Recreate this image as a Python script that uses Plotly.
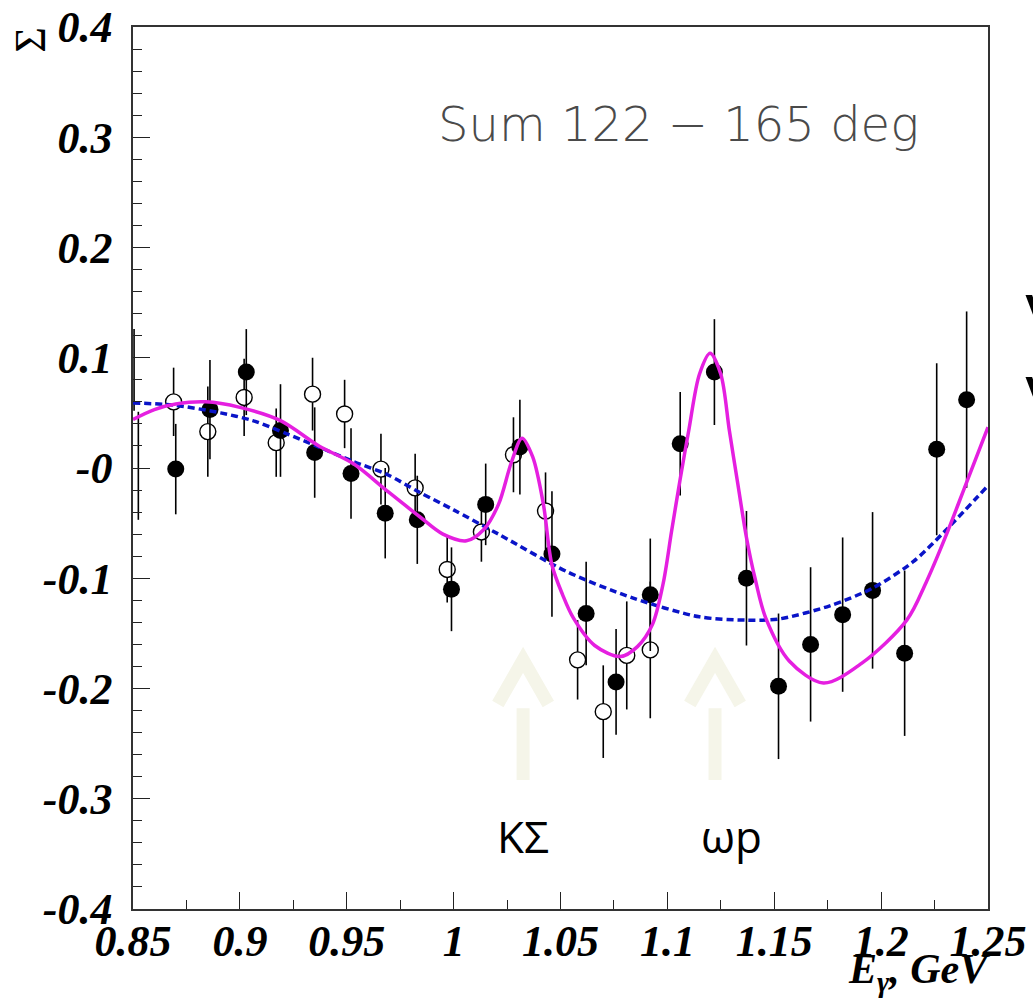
import plotly.graph_objects as go

# ---------------- data ----------------
E_FILLED = [0.870, 0.886, 0.903, 0.919, 0.935, 0.952, 0.968, 0.983, 0.999, 1.015,
            1.031, 1.046, 1.062, 1.076, 1.092, 1.106, 1.122, 1.137, 1.152, 1.167,
            1.182, 1.196, 1.211, 1.226, 1.240]
S_FILLED = [-0.001, 0.053, 0.087, 0.034, 0.014, -0.005, -0.041, -0.047, -0.110, -0.033,
            0.019, -0.078, -0.132, -0.194, -0.115, 0.022, 0.087, -0.100, -0.198, -0.160,
            -0.133, -0.111, -0.168, 0.017, 0.062]
ERR_FILLED = [0.041, 0.045, 0.039, 0.042, 0.041, 0.041, 0.041, 0.040, 0.038, 0.037,
              0.043, 0.057, 0.047, 0.048, 0.051, 0.047, 0.048, 0.061, 0.066, 0.070,
              0.070, 0.071, 0.075, 0.078, 0.080]

E_OPEN = [0.869, 0.885, 0.902, 0.917, 0.934, 0.949, 0.966, 0.982, 0.997, 1.013,
          1.028, 1.043, 1.058, 1.070, 1.081, 1.092]
S_OPEN = [0.060, 0.033, 0.064, 0.023, 0.067, 0.049, -0.001, -0.018, -0.092, -0.058,
          0.012, -0.039, -0.174, -0.221, -0.170, -0.165]
ERR_OPEN = [0.031, 0.041, 0.035, 0.031, 0.033, 0.031, 0.032, 0.031, 0.030, 0.027,
            0.034, 0.035, 0.036, 0.042, 0.049, 0.062]

# error bars at the very left edge whose markers fall outside the frame
E_EDGE = [0.8505, 0.8525]
S_EDGE = [0.089, 0.002]
ERR_EDGE = [0.037, 0.049]

# solid magenta fit
E_FIT = [0.850, 0.860, 0.870, 0.884, 0.900, 0.919, 0.937, 0.953, 0.969, 0.984,
         0.995, 1.006, 1.014, 1.021, 1.027, 1.032, 1.037, 1.042, 1.046, 1.051,
         1.056, 1.066, 1.078, 1.086, 1.093, 1.098, 1.102, 1.106, 1.110, 1.115,
         1.120, 1.125, 1.129, 1.133, 1.137, 1.141, 1.146, 1.157, 1.173, 1.191,
         1.212, 1.221, 1.230, 1.240, 1.250]
S_FIT = [0.044, 0.053, 0.058, 0.060, 0.055, 0.043, 0.020, 0.004, -0.021, -0.044,
         -0.060, -0.066, -0.056, -0.033, 0.005, 0.027, 0.010, -0.033, -0.088, -0.115,
         -0.136, -0.161, -0.171, -0.162, -0.142, -0.105, -0.057, -0.010, 0.034, 0.085,
         0.104, 0.085, 0.034, -0.015, -0.063, -0.100, -0.136, -0.175, -0.195, -0.177,
         -0.138, -0.104, -0.063, -0.013, 0.037]

# dashed blue curve
E_MODEL = [0.850, 0.869, 0.891, 0.906, 0.922, 0.937, 0.953, 0.969, 0.984, 1.000,
           1.021, 1.053, 1.084, 1.115, 1.137, 1.152, 1.176, 1.196, 1.215, 1.230, 1.250]
S_MODEL = [0.059, 0.057, 0.050, 0.043, 0.031, 0.019, 0.006, -0.006, -0.022, -0.038,
           -0.060, -0.094, -0.118, -0.135, -0.138, -0.137, -0.125, -0.109, -0.085, -0.057, -0.016]

X_TICKS = [0.85, 0.9, 0.95, 1.0, 1.05, 1.1, 1.15, 1.2, 1.25]
X_TICK_TEXT = ["0.85", "0.9", "0.95", "1", "1.05", "1.1", "1.15", "1.2", "1.25"]
Y_TICKS = [0.4, 0.3, 0.2, 0.1, 0.0, -0.1, -0.2, -0.3, -0.4]
Y_TICK_TEXT = ["0.4", "0.3", "0.2", "0.1", "-0", "-0.1", "-0.2", "-0.3", "-0.4"]

ARROW_E = [1.0325, 1.1223]
LABEL_E = [1.0325, 1.1300]
ARROW_LABELS = ["KΣ", "ωp"]

TITLE_TEXT = "Sum 122 \u2212 165 deg"

# ---------------- figure ----------------
fig = go.Figure()

err_style = dict(type="data", color="black", thickness=1.6, width=0)

fig.add_trace(go.Scatter(
    x=E_EDGE, y=S_EDGE, mode="markers",
    marker=dict(size=1, color="rgba(0,0,0,0)"),
    error_y=dict(array=ERR_EDGE, **err_style), showlegend=False))

fig.add_trace(go.Scatter(
    x=E_OPEN, y=S_OPEN, mode="markers",
    marker=dict(symbol="circle", size=16, color="white", line=dict(color="black", width=1.4)),
    error_y=dict(array=ERR_OPEN, **err_style), showlegend=False))

fig.add_trace(go.Scatter(
    x=E_FILLED, y=S_FILLED, mode="markers",
    marker=dict(symbol="circle", size=17, color="black"),
    error_y=dict(array=ERR_FILLED, **err_style), showlegend=False))

fig.add_trace(go.Scatter(
    x=E_MODEL, y=S_MODEL, mode="lines",
    line=dict(color="#0a14c8", width=3.5, dash="7px,4px", shape="spline", smoothing=0.8),
    showlegend=False))

fig.add_trace(go.Scatter(
    x=E_FIT, y=S_FIT, mode="lines",
    line=dict(color="#e51fe0", width=3.5, shape="spline", smoothing=0.9),
    showlegend=False))

ARROW_COLOR = "#f5f5e9"
shapes = []
for e in ARROW_E:
    shapes.append(dict(type="line", xref="x", yref="y", x0=e, x1=e, y0=-0.283, y1=-0.218,
                       line=dict(color=ARROW_COLOR, width=13), layer="below"))
    shapes.append(dict(type="path", xref="x", yref="y",
                       path=f"M {e-0.0118},-0.214 L {e},-0.174 L {e+0.0118},-0.214",
                       line=dict(color=ARROW_COLOR, width=13), layer="below"))

annotations = []
for e, lab in zip(LABEL_E, ARROW_LABELS):
    annotations.append(dict(x=e, y=-0.334, xref="x", yref="y", text=lab, showarrow=False,
                            font=dict(family="Open Sans", size=44, color="black"),
                            xanchor="center", yanchor="middle"))

annotations.append(dict(x=1.105, y=0.312, xref="x", yref="y", text=TITLE_TEXT, showarrow=False,
                        font=dict(family="DejaVu Sans", size=48, color="#4a4a4a", weight=200),
                        xanchor="center", yanchor="middle"))

# y-axis title (rotated Sigma) at the top left
annotations.append(dict(x=-0.12, y=0.986, xref="paper", yref="paper", text="Σ",
                        showarrow=False, textangle=-90,
                        font=dict(family="Liberation Serif", size=44, color="black"),
                        xanchor="center", yanchor="middle"))

# x-axis title at the bottom right
annotations.append(dict(x=1.005, y=-0.040, xref="paper", yref="paper",
                        text="E<sub>γ</sub>, GeV", showarrow=False,
                        font=dict(family="Liberation Serif", size=42, color="black",
                                  weight="bold", style="italic"),
                        xanchor="right", yanchor="top"))

# partially visible glyphs at the right edge
for yp in [0.668, 0.575]:
    annotations.append(dict(x=1.041, y=yp, xref="paper", yref="paper", text="V",
                            showarrow=False,
                            font=dict(family="DejaVu Sans", size=64, color="black"),
                            xanchor="left", yanchor="middle"))

tick_font = dict(family="Liberation Serif", size=44, color="black", weight="bold", style="italic")

fig.update_layout(
    width=1033, height=1004,
    margin=dict(l=133, r=45, t=27, b=95, autoexpand=False),
    paper_bgcolor="white", plot_bgcolor="white",
    shapes=shapes, annotations=annotations,
    xaxis=dict(range=[0.85, 1.25], tickvals=X_TICKS, ticktext=X_TICK_TEXT,
               ticks="inside", ticklen=17, tickwidth=1.3, tickcolor="#222",
               minor=dict(tick0=0.85, dtick=0.025, ticks="inside", ticklen=9,
                          tickwidth=1.2, tickcolor="#222"),
               showline=True, linecolor="#333", linewidth=1.6, mirror=True,
               showgrid=False, zeroline=False, tickfont=tick_font, ticklabelstandoff=-8),
    yaxis=dict(range=[-0.4, 0.4], tickvals=Y_TICKS, ticktext=Y_TICK_TEXT,
               ticks="inside", ticklen=17, tickwidth=1.3, tickcolor="#222",
               minor=dict(tick0=-0.4, dtick=0.02, ticks="inside", ticklen=9,
                          tickwidth=1.2, tickcolor="#222"),
               showline=True, linecolor="#333", linewidth=1.6, mirror=True,
               showgrid=False, zeroline=False, tickfont=tick_font, ticklabelstandoff=10),
)

fig.write_html("out.html", config={"displayModeBar": False},
               post_script="document.body.style.margin='0px';")
